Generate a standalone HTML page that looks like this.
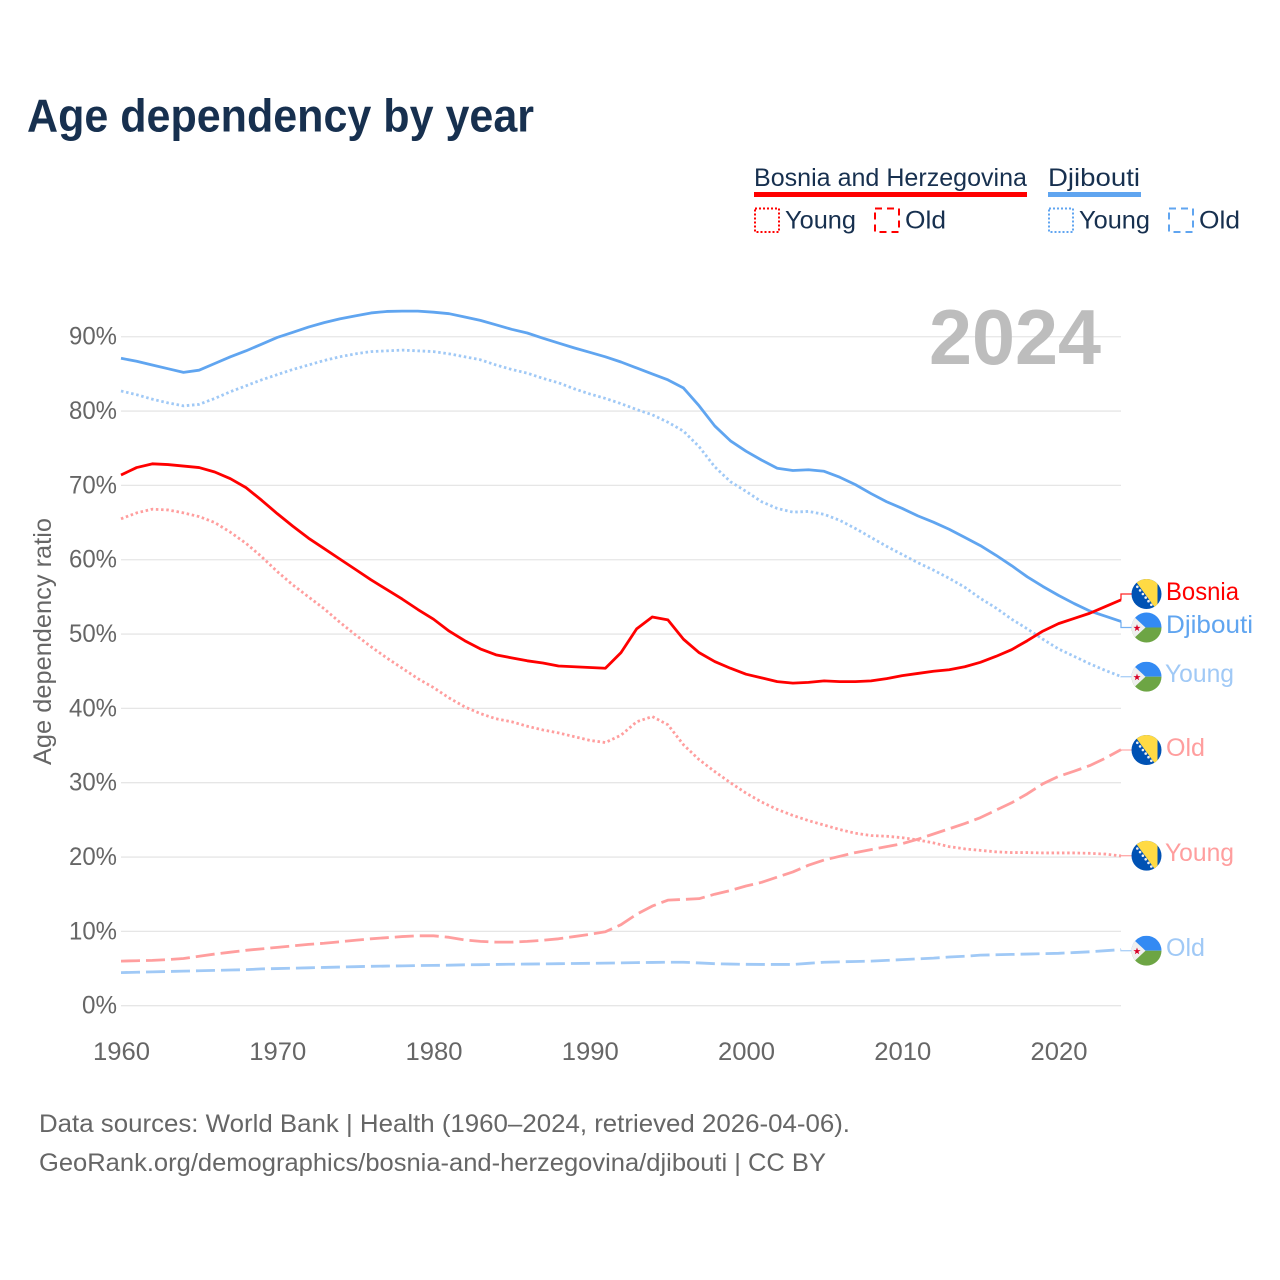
<!DOCTYPE html>
<html lang="en">
<head>
<meta charset="utf-8">
<title>Age dependency by year</title>
<style>
  html, body { margin: 0; padding: 0; background: #ffffff; }
  svg { display: block; font-family: "Liberation Sans", sans-serif; }
  .legend-text { font-size: 25px; fill: #17304f; }
  .axis-text { font-size: 25px; fill: #666666; }
  .end-label { font-size: 25px; }
</style>
</head>
<body>
<svg id="chart" width="1280" height="1280" viewBox="0 0 1280 1280" xmlns="http://www.w3.org/2000/svg">
  <defs>
    <clipPath id="flag-clip"><circle cx="0" cy="0" r="15"></circle></clipPath>
    <g id="flag-bosnia" clip-path="url(#flag-clip)">
      <rect x="-15" y="-15" width="30" height="30" fill="#0052b4"></rect>
      <polygon points="-12.5,-15 11,-15 11,15 9.5,15" fill="#ffda44"></polygon>
      <circle cx="-9.2" cy="-7.2" r="1.3" fill="#f0f0f0"></circle>
      <circle cx="-6.4" cy="-3.6" r="1.3" fill="#f0f0f0"></circle>
      <circle cx="-3.6" cy="0" r="1.3" fill="#f0f0f0"></circle>
      <circle cx="-0.8" cy="3.6" r="1.3" fill="#f0f0f0"></circle>
      <circle cx="2" cy="7.2" r="1.3" fill="#f0f0f0"></circle>
      <circle cx="4.8" cy="10.8" r="1.3" fill="#f0f0f0"></circle>
    </g>
    <g id="flag-djibouti" clip-path="url(#flag-clip)">
      <rect x="-15" y="-15" width="30" height="15" fill="#338af3"></rect>
      <rect x="-15" y="0" width="30" height="15" fill="#6da544"></rect>
      <polygon points="-15,-13 -1,0 -15,13" fill="#f0f0f0"></polygon>
      <polygon points="-9.5,-3.2 -8.6,-0.6 -5.9,-0.6 -8.1,1 -7.3,3.6 -9.5,2 -11.7,3.6 -10.9,1 -13.1,-0.6 -10.4,-0.6" fill="#d80027"></polygon>
    </g>
  </defs>

  <rect x="0" y="0" width="1280" height="1280" fill="#ffffff"></rect>

  <text x="27" y="131.5" font-size="46" font-weight="700" fill="#17304f" textLength="507" lengthAdjust="spacingAndGlyphs">Age dependency by year</text>

  <g>
    <text class="legend-text" x="754" y="186" textLength="273" lengthAdjust="spacingAndGlyphs">Bosnia and Herzegovina</text>
    <rect x="754" y="192" width="273" height="5" fill="#ff0000"></rect>
    <text class="legend-text" x="1048" y="186" textLength="92" lengthAdjust="spacingAndGlyphs">Djibouti</text>
    <rect x="1048" y="192" width="93" height="5" fill="#60a5f0"></rect>

    <rect x="755" y="208.5" width="24" height="23.5" fill="none" stroke="#ff0000" stroke-width="2" stroke-dasharray="2 2"></rect>
    <text class="legend-text" x="785" y="228.5" textLength="71" lengthAdjust="spacingAndGlyphs">Young</text>
    <rect x="875" y="208.5" width="24" height="23.5" fill="none" stroke="#ff0000" stroke-width="2" stroke-dasharray="7 5"></rect>
    <text class="legend-text" x="905" y="228.5" textLength="41" lengthAdjust="spacingAndGlyphs">Old</text>

    <rect x="1049" y="208.5" width="24" height="23.5" fill="none" stroke="#60a5f0" stroke-width="2" stroke-dasharray="2 2"></rect>
    <text class="legend-text" x="1079" y="228.5" textLength="71" lengthAdjust="spacingAndGlyphs">Young</text>
    <rect x="1169" y="208.5" width="24" height="23.5" fill="none" stroke="#60a5f0" stroke-width="2" stroke-dasharray="7 5"></rect>
    <text class="legend-text" x="1199" y="228.5" textLength="41" lengthAdjust="spacingAndGlyphs">Old</text>
  </g>

  <g id="grid"></g>
  <g id="y-axis"></g>
  <g id="x-axis"></g>

  <text x="929" y="364" font-size="78" font-weight="700" fill="#bdbdbd" textLength="172" lengthAdjust="spacingAndGlyphs">2024</text>

  <text class="axis-text" transform="translate(51,765) rotate(-90)" x="0" y="0" textLength="247" lengthAdjust="spacingAndGlyphs">Age dependency ratio</text>

  <g id="series"></g>

  <g>
    <use href="#flag-bosnia" transform="translate(1146.5,594)"></use>
    <use href="#flag-djibouti" transform="translate(1146.5,627.5)"></use>
    <use href="#flag-djibouti" transform="translate(1146.5,676.7)"></use>
    <use href="#flag-bosnia" transform="translate(1146.5,750)"></use>
    <use href="#flag-bosnia" transform="translate(1146.5,855.7)"></use>
    <use href="#flag-djibouti" transform="translate(1146.5,950.7)"></use>
  </g>

  <g>
    <text class="end-label" x="1166" y="600" fill="#ff0000" textLength="73" lengthAdjust="spacingAndGlyphs">Bosnia</text>
    <text class="end-label" x="1166" y="633" fill="#60a5f0" textLength="87" lengthAdjust="spacingAndGlyphs">Djibouti</text>
    <text class="end-label" x="1165" y="682" fill="#a0c9f6" textLength="69" lengthAdjust="spacingAndGlyphs">Young</text>
    <text class="end-label" x="1166" y="756" fill="#ff9e9e" textLength="39" lengthAdjust="spacingAndGlyphs">Old</text>
    <text class="end-label" x="1165" y="861" fill="#ff9e9e" textLength="69" lengthAdjust="spacingAndGlyphs">Young</text>
    <text class="end-label" x="1166" y="956" fill="#a0c9f6" textLength="39" lengthAdjust="spacingAndGlyphs">Old</text>
  </g>

  <text class="axis-text" x="39" y="1132" textLength="811" lengthAdjust="spacingAndGlyphs">Data sources: World Bank | Health (1960–2024, retrieved 2026-04-06).</text>
  <text class="axis-text" x="39" y="1171" textLength="787" lengthAdjust="spacingAndGlyphs">GeoRank.org/demographics/bosnia-and-herzegovina/djibouti | CC BY</text>

<script>
const startYear = 1960;
const yTickValues = [0, 10, 20, 30, 40, 50, 60, 70, 80, 90];
const xTickValues = [1960, 1970, 1980, 1990, 2000, 2010, 2020];

const bosniaTotal = [
  71.4,72.4,72.9,72.8,72.6,72.4,71.8,70.9,69.7,68.0,
  66.2,64.5,62.9,61.5,60.1,58.7,57.3,56.0,54.7,53.3,
  52.0,50.4,49.1,48.0,47.2,46.8,46.4,46.1,45.7,45.6,
  45.5,45.4,47.5,50.7,52.3,51.9,49.3,47.5,46.3,45.4,
  44.6,44.1,43.6,43.4,43.5,43.7,43.6,43.6,43.7,44.0,
  44.4,44.7,45.0,45.2,45.6,46.2,47.0,47.9,49.1,50.4,
  51.4,52.1,52.8,53.7,54.6
];
const bosniaYoung = [
  65.5,66.3,66.8,66.7,66.3,65.8,65.0,63.7,62.2,60.4,
  58.4,56.6,55.0,53.4,51.6,49.9,48.3,46.8,45.4,44.0,
  42.8,41.4,40.2,39.3,38.6,38.2,37.6,37.1,36.7,36.2,
  35.7,35.4,36.4,38.2,38.9,37.8,35.1,33.1,31.5,30.0,
  28.6,27.4,26.4,25.6,24.9,24.3,23.7,23.2,22.9,22.8,
  22.6,22.3,21.9,21.4,21.1,20.9,20.7,20.6,20.6,20.55,
  20.55,20.55,20.5,20.4,20.15
];
const bosniaOld = [
  6.0,6.05,6.1,6.2,6.35,6.65,6.95,7.2,7.45,7.65,
  7.85,8.05,8.25,8.4,8.6,8.8,9.0,9.15,9.3,9.4,
  9.4,9.2,8.85,8.65,8.55,8.55,8.65,8.8,9.0,9.3,
  9.6,9.95,10.9,12.3,13.4,14.2,14.3,14.4,15.0,15.5,
  16.1,16.6,17.3,18.0,18.9,19.6,20.1,20.6,21.0,21.4,
  21.8,22.4,23.1,23.8,24.5,25.3,26.3,27.3,28.5,29.85,
  30.85,31.55,32.3,33.3,34.45
];
const djiboutiTotal = [
  87.1,86.7,86.2,85.7,85.2,85.5,86.4,87.3,88.1,89.0,
  89.9,90.6,91.3,91.9,92.4,92.8,93.2,93.4,93.45,93.45,
  93.3,93.1,92.65,92.2,91.6,91.0,90.5,89.8,89.15,88.5,
  87.9,87.3,86.6,85.8,85.0,84.2,83.1,80.7,78.0,76.0,
  74.6,73.4,72.3,72.0,72.1,71.9,71.1,70.1,68.9,67.8,
  66.9,65.9,65.05,64.1,63.0,61.9,60.6,59.2,57.7,56.4,
  55.2,54.1,53.1,52.4,51.7
];
const djiboutiYoung = [
  82.7,82.2,81.6,81.1,80.7,80.9,81.7,82.6,83.4,84.2,
  84.9,85.6,86.2,86.8,87.3,87.7,88.0,88.1,88.2,88.1,
  88.0,87.7,87.3,86.9,86.2,85.6,85.1,84.4,83.8,83.0,
  82.3,81.7,81.0,80.2,79.5,78.5,77.3,75.2,72.5,70.5,
  69.2,67.8,66.9,66.4,66.5,66.1,65.3,64.2,63.0,61.8,
  60.7,59.6,58.6,57.5,56.3,54.8,53.5,52.0,50.7,49.3,
  48.0,47.0,46.0,45.1,44.3
];
const djiboutiOld = [
  4.45,4.5,4.55,4.6,4.65,4.7,4.75,4.8,4.85,4.95,
  5.0,5.05,5.1,5.15,5.2,5.25,5.3,5.33,5.36,5.4,
  5.42,5.45,5.5,5.52,5.55,5.58,5.6,5.62,5.65,5.68,
  5.7,5.73,5.76,5.8,5.82,5.85,5.85,5.75,5.65,5.6,
  5.57,5.55,5.55,5.55,5.7,5.85,5.9,5.95,6.0,6.1,
  6.2,6.3,6.4,6.55,6.65,6.8,6.85,6.9,6.95,7.0,
  7.05,7.15,7.25,7.4,7.55
];

const SVG_NS = 'http://www.w3.org/2000/svg';
const xScale = function (year) { return 121 + (year - 1960) * 15.625; };
const yScale = function (pct) { return 1005.7 - pct * 7.433; };

const gridLayer = document.getElementById('grid');
const yAxisLayer = document.getElementById('y-axis');
const xAxisLayer = document.getElementById('x-axis');
const seriesLayer = document.getElementById('series');

yTickValues.forEach(function (value) {
  const line = document.createElementNS(SVG_NS, 'line');
  
  
  line.setAttribute('x1', 121);
  line.setAttribute('x2', 1121);
  line.setAttribute('y1', yScale(value));
  line.setAttribute('y2', yScale(value));
  line.setAttribute('stroke', '#e6e6e6');
  line.setAttribute('stroke-width', '1.3');
  gridLayer.appendChild(line);

  const label = document.createElementNS(SVG_NS, 'text');
  
  
  label.setAttribute('class', 'axis-text');
  label.setAttribute('x', 117);
  label.setAttribute('y', yScale(value) + 8);
  label.setAttribute('text-anchor', 'end');
  label.setAttribute('textLength', value === 0 ? 35 : 48);
  label.setAttribute('lengthAdjust', 'spacingAndGlyphs');
  label.textContent = value + '%';
  yAxisLayer.appendChild(label);
});

xTickValues.forEach(function (year) {
  const label = document.createElementNS(SVG_NS, 'text');
  
  
  label.setAttribute('class', 'axis-text');
  label.setAttribute('x', xScale(year) + 0.5);
  label.setAttribute('y', 1060);
  label.setAttribute('text-anchor', 'middle');
  label.setAttribute('textLength', 57);
  label.setAttribute('lengthAdjust', 'spacingAndGlyphs');
  label.textContent = year;
  xAxisLayer.appendChild(label);
});

function drawSeries(name, values, color, width, dash, flagY) {
  const points = values.map(function (value, i) {
    return xScale(startYear + i).toFixed(2) + ',' + yScale(value).toFixed(2);
  });
  const line = document.createElementNS(SVG_NS, 'polyline');
  
  
  line.setAttribute('points', points.join(' '));
  line.setAttribute('fill', 'none');
  line.setAttribute('stroke', color);
  line.setAttribute('stroke-width', width);
  line.setAttribute('stroke-linejoin', 'round');
  if (dash) {
    line.setAttribute('stroke-dasharray', dash);
  }
  seriesLayer.appendChild(line);

  const endX = xScale(startYear + values.length - 1);
  const endY = yScale(values[values.length - 1]);
  const connector = document.createElementNS(SVG_NS, 'path');
  
  
  connector.setAttribute('d', 'M' + endX + ' ' + endY.toFixed(2) + ' V' + flagY + ' H1132');
  connector.setAttribute('fill', 'none');
  connector.setAttribute('stroke', color);
  connector.setAttribute('stroke-width', '1.3');
  connector.setAttribute('opacity', '0.85');
  seriesLayer.appendChild(connector);
}

drawSeries('djibouti-old', djiboutiOld, '#a0c9f6', 2.8, '19 6', 950.7);
drawSeries('bosnia-old', bosniaOld, '#ff9e9e', 2.8, '19 6', 750);
drawSeries('bosnia-young', bosniaYoung, '#ff9e9e', 2.8, '2.5 2.7', 855.7);
drawSeries('djibouti-young', djiboutiYoung, '#a0c9f6', 2.8, '2.5 2.7', 676.7);
drawSeries('djibouti-total', djiboutiTotal, '#60a5f0', 2.8, null, 627.5);
drawSeries('bosnia-total', bosniaTotal, '#ff0000', 2.8, null, 594);
</script>
</svg>
</body>
</html>
